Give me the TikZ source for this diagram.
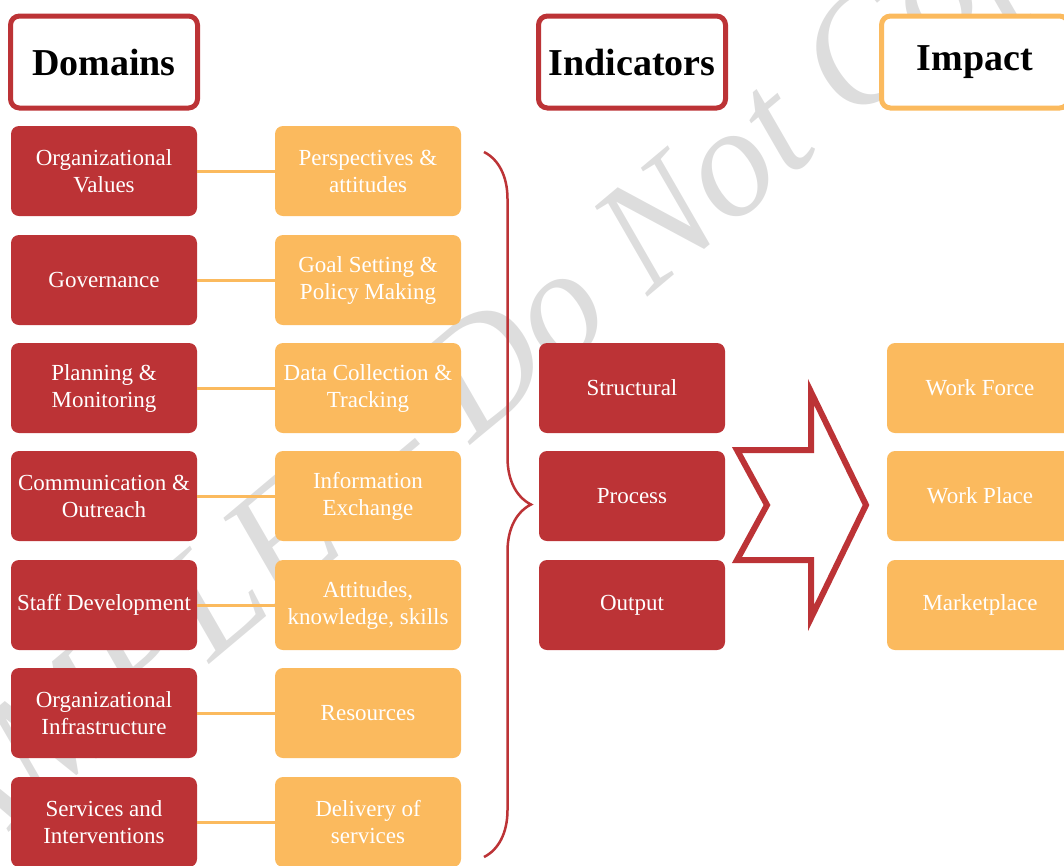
\documentclass[tikz,border=0pt]{standalone}
\usepackage{fontspec}
\setmainfont{Liberation Serif}
\usetikzlibrary{decorations.pathreplacing}
\definecolor{domred}{RGB}{188,51,54}
\definecolor{domorange}{RGB}{251,186,94}
\definecolor{wmgray}{RGB}{221,221,221}

\begin{document}
\begin{tikzpicture}[x=1pt,y=-1pt,
    head/.style={draw=domred, line width=5pt, fill=white, rounded corners=9pt,
        minimum width=187pt, minimum height=92pt, font=\bfseries\fontsize{38}{40}\selectfont},
    redbox/.style={fill=domred, text=white, rounded corners=8pt, minimum width=186pt,
        minimum height=90pt, inner sep=1pt, align=center, font=\fontsize{23}{27}\selectfont},
    orangebox/.style={redbox, fill=domorange},
    link/.style={draw=domorange, line width=3pt}]
    \clip (0,0) rectangle (1064,865);
    \node[rotate=40, text=wmgray, font=\itshape\fontsize{157}{157}\selectfont] at (482,390) (wm) {SAMPLE -- Do Not Copy};

    \node[head] at (104,62) (dom) {Domains};
    \node[head] at (632,62) (ind) {Indicators};
    \node[head, draw=domorange] at (975,62) (imp) {Impact};

    \node[redbox] at (104,171) (ov) {Organizational\\Values};
    \node[redbox] at (104,280) (gov) {Governance};
    \node[redbox] at (104,388) (pm) {Planning \&\\Monitoring};
    \node[redbox] at (104,496) (co) {Communication \&\\Outreach};
    \node[redbox] at (104,605) (sd) {Staff Development};
    \node[redbox] at (104,713) (oi) {Organizational\\Infrastructure};
    \node[redbox] at (104,822) (si) {Services and\\Interventions};

    \node[orangebox] at (368,171) (pa) {Perspectives \&\\attitudes};
    \node[orangebox] at (368,280) (gs) {Goal Setting \&\\Policy Making};
    \node[orangebox] at (368,388) (dc) {Data Collection \&\\Tracking};
    \node[orangebox] at (368,496) (ie) {Information\\Exchange};
    \node[orangebox] at (368,605) (akn) {Attitudes,\\knowledge, skills};
    \node[orangebox] at (368,713) (res) {Resources};
    \node[orangebox] at (368,822) (del) {Delivery of\\services};

    \node[redbox] at (632,388) (str) {Structural};
    \node[redbox] at (632,496) (proc) {Process};
    \node[redbox] at (632,605) (out) {Output};

    \node[orangebox] at (980,388) (wf) {Work Force};
    \node[orangebox] at (980,496) (wp) {Work Place};
    \node[orangebox] at (980,605) (mp) {Marketplace};

    \draw[link] (ov) -- (pa);
    \draw[link] (gov) -- (gs);
    \draw[link] (pm) -- (dc);
    \draw[link] (co) -- (ie);
    \draw[link] (sd) -- (akn);
    \draw[link] (oi) -- (res);
    \draw[link] (si) -- (del);

    \coordinate (bt) at (484,152);
    \coordinate (bb) at (484,857);
    \draw[domred, line width=2.5pt, decorate, decoration={brace, amplitude=47pt}] (bt) -- (bb);

    \draw[domred, line width=6pt, miter limit=10] (737,450) -- (811,450) -- (811,392)
        -- (866,505) -- (811,618) -- (811,560) -- (737,560) -- (767,505) -- cycle;
\end{tikzpicture}
\end{document}
